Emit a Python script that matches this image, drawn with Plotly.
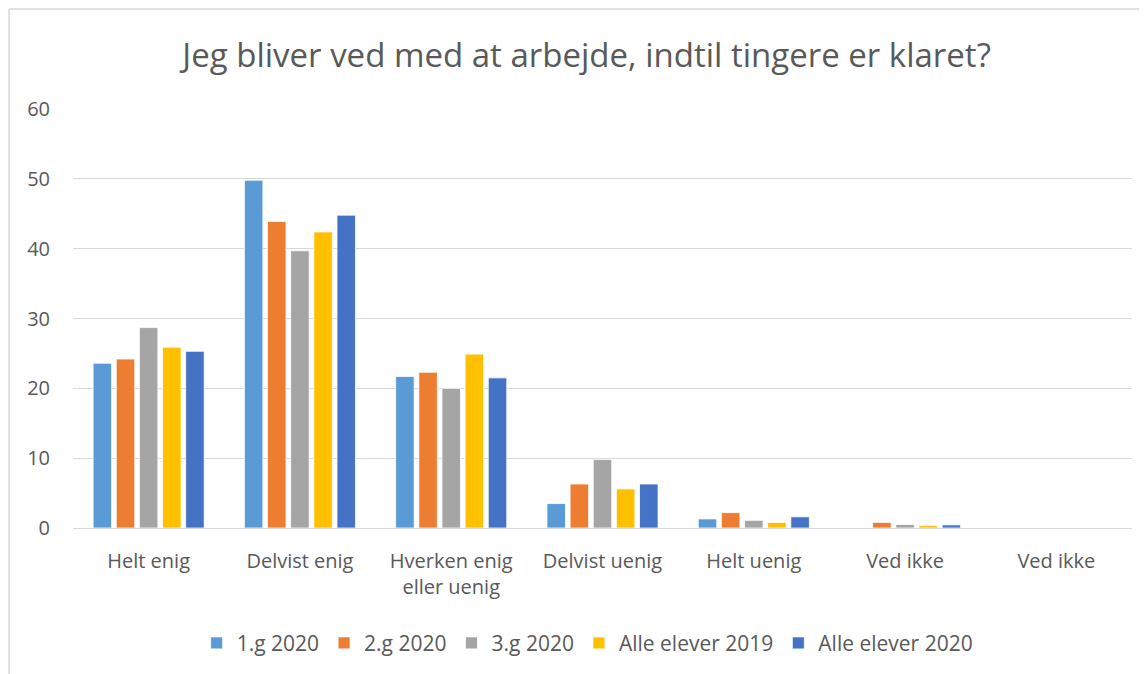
import plotly.graph_objects as go

categories = ["Helt enig", "Delvist enig", "Hverken enig<br>eller uenig", "Delvist uenig",
              "Helt uenig", "Ved ikke", "Ved ikke"]
series_names = ["1.g 2020", "2.g 2020", "3.g 2020", "Alle elever 2019", "Alle elever 2020"]
g1_2020 = [23.6, 49.8, 21.7, 3.5, 1.3, 0.0, 0.0]
g2_2020 = [24.2, 43.9, 22.3, 6.3, 2.2, 0.8, 0.0]
g3_2020 = [28.7, 39.7, 20.0, 9.8, 1.1, 0.5, 0.0]
alle_2019 = [25.9, 42.4, 24.9, 5.6, 0.8, 0.35, 0.0]
alle_2020 = [25.3, 44.8, 21.5, 6.3, 1.6, 0.45, 0.0]
y_ticks = [0, 10, 20, 30, 40, 50, 60]

colors = ["#5B9BD5", "#ED7D31", "#A5A5A5", "#FFC000", "#4472C4"]
values = [g1_2020, g2_2020, g3_2020, alle_2019, alle_2020]
xpos = list(range(len(categories)))

fig = go.Figure()
for name, vals, col in zip(series_names, values, colors):
    fig.add_trace(go.Bar(x=xpos, y=vals, name=name, marker_color=col,
                         marker_line_color="white", marker_line_width=0.8))

font_family = "Open Sans, Liberation Sans, sans-serif"
fig.update_layout(
    width=1139, height=666,
    margin=dict(l=65, r=15, t=100.5, b=144.7),
    paper_bgcolor="white", plot_bgcolor="white",
    barmode="group", bargap=0.235, bargroupgap=0.2,
    title=dict(text="Jeg bliver ved med at arbejde, indtil tingere er klaret?",
               x=0.508, xanchor="center", y=0.9294, yanchor="middle",
               font=dict(family=font_family, size=33, color="#595959")),
    font=dict(family=font_family, color="#595959"),
    showlegend=True,
    legend=dict(orientation="h", x=0.486, xanchor="center", y=-0.272, yanchor="middle",
                font=dict(size=21, color="#595959"), itemwidth=30,
                traceorder="normal"),
    xaxis=dict(tickmode="array", tickvals=xpos, ticktext=categories,
               range=[-0.5, len(categories) - 0.5], showgrid=False,
               showline=False, zeroline=False, ticks="",
               tickfont=dict(size=20, color="#595959"), ticklabelstandoff=19),
    yaxis=dict(range=[0, 60], tickvals=y_ticks, showgrid=True, gridcolor="#D9D9D9",
               gridwidth=1, zeroline=True, zerolinecolor="#D9D9D9", zerolinewidth=1,
               showline=False, ticks="", tickfont=dict(size=20, color="#595959"),
               ticklabelstandoff=22),
    shapes=[
        dict(type="line", xref="paper", yref="paper", x0=-0.0604, x1=1.05,
             y0=1.2388, y1=1.2388, line=dict(color="#D9D9D9", width=1.5)),
        dict(type="line", xref="paper", yref="paper", x0=-0.0604, x1=-0.0604,
             y0=1.2388, y1=-0.4, line=dict(color="#D9D9D9", width=1.5)),
    ],
)

fig.write_html("out.html")
